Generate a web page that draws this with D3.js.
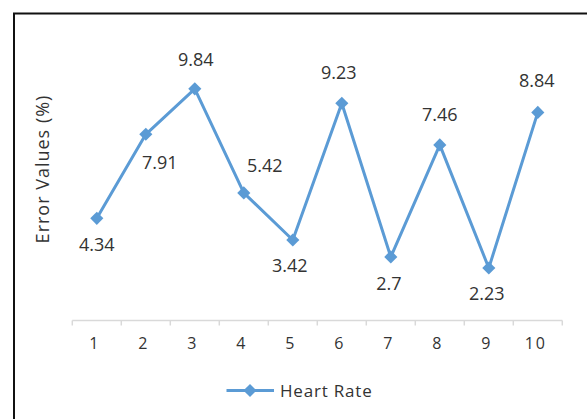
<!DOCTYPE html>
<html>
<head>
<meta charset="utf-8">
<script src="https://cdn.jsdelivr.net/npm/d3@7/dist/d3.min.js"></script>
<style>
  html, body { margin: 0; padding: 0; background: #fff; }
  svg { display: block; }
  text { font-family: "Open Sans", "Noto Sans", sans-serif; fill: #333; }
</style>
</head>
<body>
<svg id="chart" width="587" height="419"></svg>
<script>
// Error values (%) for each heart-rate trial
const categories = ["1", "2", "3", "4", "5", "6", "7", "8", "9", "10"];
const heartRate = [4.34, 7.91, 9.84, 5.42, 3.42, 9.23, 2.7, 7.46, 2.23, 8.84];
const seriesName = "Heart Rate";
const yDomain = [0, 12];

// Where each value label sits relative to its marker (dx, dy)
const labelOffsets = [
  [0, 26], [14, 28], [1, -30], [21, -28], [-3, 25],
  [-3, -31], [-2, 26], [0, -31], [-2, 25], [-1, -32]
];

const blue = "#5b9bd5";
const svg = d3.select("#chart");

// Outer chart frame (runs off the right and bottom edges)
svg.append("rect")
  .attr("x", 14).attr("y", 13.5)
  .attr("width", 600).attr("height", 420)
  .attr("fill", "none").attr("stroke", "#111").attr("stroke-width", 2);

const plot = { left: 72.3, right: 562.3, top: 38, bottom: 320.5 };

const x = d3.scaleBand().domain(categories).range([plot.left, plot.right]).padding(0);
const y = d3.scaleLinear().domain(yDomain).range([plot.bottom, plot.top]);

// Category axis: line, boundary ticks and labels
const axisG = svg.append("g").attr("transform", `translate(0,${plot.bottom})`);
axisG.call(d3.axisBottom(x).tickSize(0).tickPadding(0))
  .call(g => g.select(".domain").remove());
axisG.selectAll(".tick text")
  .attr("dx", -2)
  .attr("dy", 0)
  .attr("y", 22)
  .attr("dominant-baseline", "central")
  .style("font-size", "16px")
  .style("letter-spacing", "2px")
  .style("font-family", "'Open Sans', 'Noto Sans', sans-serif")
  .style("fill", "#333");
axisG.append("line")
  .attr("x1", plot.left).attr("x2", plot.right)
  .attr("stroke", "#d9d9d9").attr("stroke-width", 1.5);
const bounds = categories.map(c => x(c)).concat([x(categories[categories.length - 1]) + x.bandwidth()]);
axisG.selectAll("line.bound").data(bounds).join("line")
  .attr("class", "bound")
  .attr("x1", d => d).attr("x2", d => d)
  .attr("y1", 0).attr("y2", 5)
  .attr("stroke", "#d9d9d9").attr("stroke-width", 1.5);

// Y axis title
svg.append("text")
  .attr("transform", `translate(42,${(93 + 245) / 2}) rotate(-90)`)
  .attr("text-anchor", "middle")
  .attr("dominant-baseline", "central")
  .style("font-size", "18px")
  .style("letter-spacing", "1px")
  .text("Error Values (%)");

// Series line
const cx = (d, i) => x(categories[i]) + x.bandwidth() / 2;
const line = d3.line().x(cx).y(d => y(d));
svg.append("path")
  .datum(heartRate)
  .attr("d", line)
  .attr("fill", "none")
  .attr("stroke", blue)
  .attr("stroke-width", 3)
  .attr("stroke-linejoin", "round");

// Diamond markers
const diamond = d3.symbol().type(d3.symbolDiamond2).size(110);
svg.selectAll("path.marker").data(heartRate).join("path")
  .attr("class", "marker")
  .attr("d", diamond)
  .attr("transform", (d, i) => `translate(${cx(d, i)},${y(d)})`)
  .attr("fill", blue);

// Value labels
svg.selectAll("text.value").data(heartRate).join("text")
  .attr("class", "value")
  .attr("x", (d, i) => cx(d, i) + labelOffsets[i][0])
  .attr("y", (d, i) => y(d) + labelOffsets[i][1])
  .attr("text-anchor", "middle")
  .attr("dominant-baseline", "central")
  .style("font-size", "18px")
  .text(d => d);

// Legend
const legend = svg.append("g").attr("transform", "translate(0,390.5)");
legend.append("line")
  .attr("x1", 226.5).attr("x2", 274)
  .attr("stroke", blue).attr("stroke-width", 3);
legend.append("path")
  .attr("d", diamond)
  .attr("transform", "translate(250,0)")
  .attr("fill", blue);
legend.append("text")
  .attr("x", 280).attr("y", 0)
  .attr("dominant-baseline", "central")
  .style("font-size", "17px")
  .style("letter-spacing", "0.8px")
  .text(seriesName);
</script>
</body>
</html>
